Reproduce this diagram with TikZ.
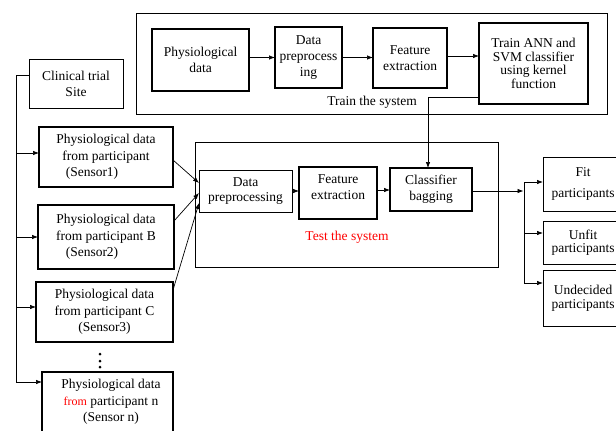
\documentclass[tikz,border=0pt]{standalone}
\usepackage{fontspec}
\setmainfont{Liberation Serif}
\usetikzlibrary{arrows.meta,calc}
\begin{document}
\begin{tikzpicture}[x=1pt,y=-1pt,
  sz/.style 2 args={minimum width=#1pt, minimum height=#2pt},
  box/.style={draw, line width=1pt, align=center, inner sep=0pt, outer sep=0pt, font=\fontsize{13.5}{16}\selectfont},
  tbox/.style={box, line width=1.8pt},
  frame/.style={draw, line width=1pt, inner sep=0pt, outer sep=0pt},
  conn/.style={line width=0.7pt},
  arr/.style={conn, -{Latex[length=6pt,width=4.5pt]}},
  lbl/.style={font=\fontsize{13.5}{16}\selectfont, inner sep=0pt}]
\useasboundingbox (0,0) rectangle (616,431);
\fill[white] (0,0) rectangle (616,431);

% Train the system
\node[frame, sz={471}{101}] (train) at (371.5,63.5) {};
\node[box, line width=1.2pt, sz={97}{62}] (phys) at (200.5,60) {Physiological\\data};
\node[box, line width=1.2pt, sz={67}{61}] (dpre) at (308.5,57.5) {Data\\preprocess\\ing};
\node[box, line width=1.2pt, sz={74}{60}] (fext) at (410,58) {Feature\\extraction};
\node[box, line width=1.2pt, sz={109}{81}, font=\fontsize{13.5}{13.5}\selectfont] (tann) at (533.5,63.5) {Train ANN and\\SVM classifier\\using kernel\\function};
\node[lbl] (trainlbl) at (372,102) {Train the system};

% Test the system
\node[frame, sz={303}{125}] (test) at (346.5,204.5) {};
\node[box, sz={93}{42}, font=\fontsize{13.5}{15}\selectfont] (tdp) at (245.5,191) {Data\\preprocessing};
\node[tbox, sz={78}{52}] (tfe) at (338,193) {Feature\\extraction\\[-4pt]};
\node[tbox, sz={82}{43}] (tcb) at (431,189.5) {Classifier\\bagging};
\node[lbl, text=red] (testlbl) at (347,237) {Test the system};

% Left column
\node[box, sz={94}{49}] (clin) at (76,83.5) {Clinical trial\\Site};
\node[tbox, sz={134}{60}, font=\fontsize{13.5}{16.5}\selectfont] (s1) at (106,157) {Physiological data\\from participant\\(Sensor1)\hspace*{28pt}};
\node[tbox, sz={136}{64}, font=\fontsize{13.5}{16.5}\selectfont] (s2) at (106,237) {Physiological data\\from participant B\\(Sensor2)\hspace*{28pt}};
\node[tbox, sz={137}{60}, font=\fontsize{13.5}{16.5}\selectfont] (s3) at (104.5,312) {Physiological data\\from participant C\\(Sensor3)};
\node[tbox, sz={131}{68}] (sn) at (107.5,406) {};
\node[lbl, align=center, font=\fontsize{13.5}{16.5}\selectfont] (snt) at (111,402) {Physiological data\\\textcolor{red}{\fontsize{12}{16.5}\selectfont from} participant n\\(Sensor n)};
\fill (100,354) circle (1.5pt) (100,361) circle (1.5pt) (100,367) circle (1.5pt);

% Right column
\node[box, sz={80}{54}, font=\fontsize{13.5}{21.5}\selectfont] (fit) at (583,184) {Fit\\participants};
\node[box, sz={80}{43}, font=\fontsize{13.5}{13.5}\selectfont] (unfit) at (583,242.5) {Unfit\\participants};
\node[box, sz={80}{56}, font=\fontsize{13.5}{13.5}\selectfont] (undec) at (583,298) {Undecided\\participants};

% Train connectors
\draw[arr] (phys.east |- dpre.west) -- (dpre.west);
\draw[arr] (dpre.east) -- (dpre.east -| fext.west);
\draw[arr] ($(fext.east)+(0,-2)$) -- ($(fext.east -| tann.west)+(0,-2)$);
\draw[arr] ($(tann.south west)+(0,-7)$) -| ($(tcb.north)+(-3,0)$);

% Test connectors
\draw[arr] (tdp.east) -- (tdp.east -| tfe.west);
\draw[arr] ($(tfe.east)+(0,-3)$) -- ($(tfe.east -| tcb.west)+(0,-3)$);

% Sensors to test
\draw[arr] ($(s1.east)+(0,3)$) -- ($(tdp.west)+(0,-8)$);
\draw[arr] ($(s2.east)+(0,-16)$) -- ($(tdp.west)+(0,2)$);
\draw[arr] ($(s3.east)+(0,-22)$) -- ($(tdp.west)+(0,12)$);

% Left bus
\coordinate (L0) at (16,75);
\coordinate (Ln) at (16,382);
\draw[conn] (clin.west |- L0) -- (L0) -- (Ln);
\draw[arr] ($(L0 |- s1.west)+(0,-4)$) -- ($(s1.west)+(0,-4)$);
\draw[arr] (L0 |- s2.west) -- (s2.west);
\draw[arr] ($(L0 |- s3.west)+(0,-5)$) -- ($(s3.west)+(0,-5)$);
\draw[arr] (Ln) -- (Ln -| sn.west);

% Output bus
\coordinate (split) at (524,191);
\coordinate (v1) at (524,182);
\coordinate (v2) at (524,233);
\coordinate (v3) at (524,283);
\draw[arr] ($(tcb.east)+(0,1.5)$) -- ($(split)+(-0.5,0)$);
\draw[conn] (v1) -- (v3);
\draw[arr] (v1) -- (v1 -| fit.west);
\draw[arr] (v2) -- (v2 -| unfit.west);
\draw[arr] (v3) -- (v3 -| undec.west);
\end{tikzpicture}
\end{document}
